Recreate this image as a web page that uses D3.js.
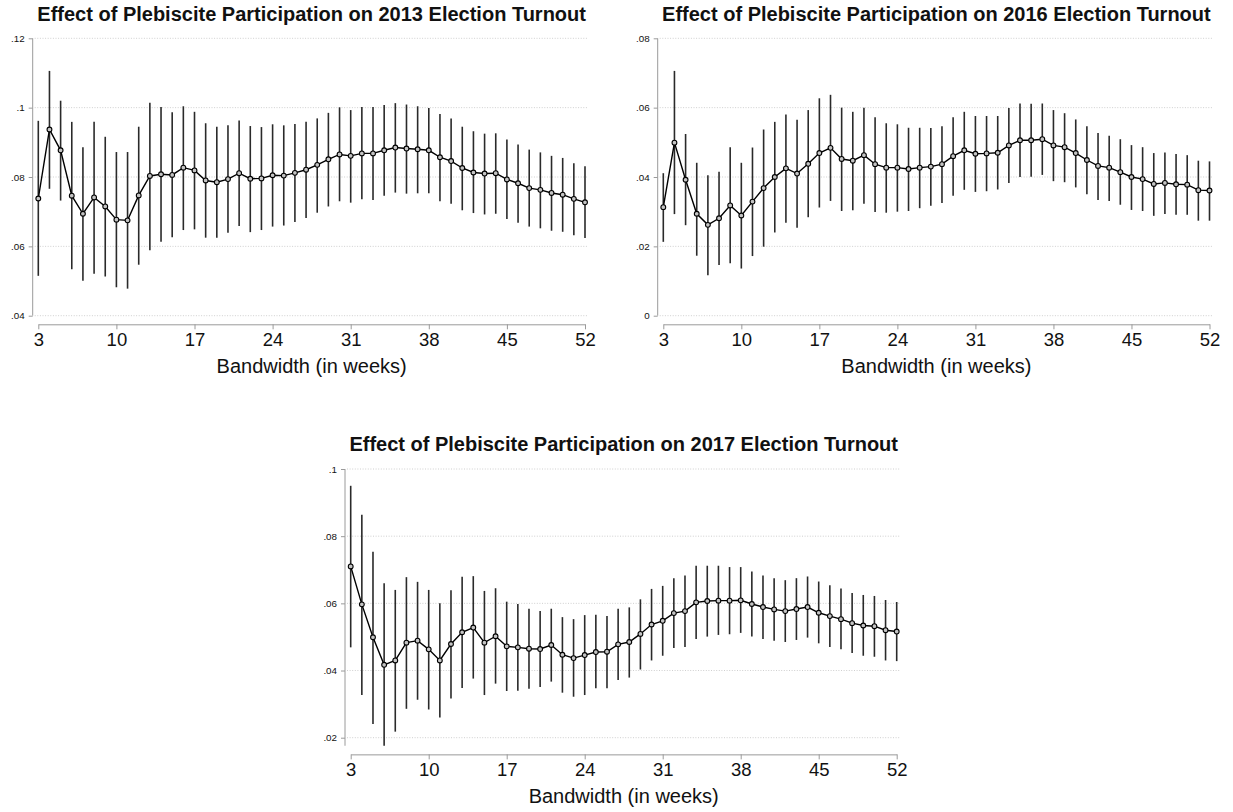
<!DOCTYPE html>
<html>
<head>
<meta charset="utf-8">
<script src="https://cdn.jsdelivr.net/npm/d3@7"></script>
<style>
  body { margin: 0; background: #fff; }
  svg text { font-family: "Liberation Sans", Arial, sans-serif; fill: #111; }
</style>
</head>
<body>
<div id="chart"></div>
<script>
// bandwidths (weeks) and tick values
var weeks = [3,4,5,6,7,8,9,10,11,12,13,14,15,16,17,18,19,20,21,22,23,24,25,26,27,
             28,29,30,31,32,33,34,35,36,37,38,39,40,41,42,43,44,45,46,47,48,49,50,51,52];
var xTicks = [3, 10, 17, 24, 31, 38, 45, 52];

var titles = ["Effect of Plebiscite Participation on 2013 Election Turnout",
              "Effect of Plebiscite Participation on 2016 Election Turnout",
              "Effect of Plebiscite Participation on 2017 Election Turnout"];
var xLabel = "Bandwidth (in weeks)";

// 2013 estimates + confidence interval
var est2013 = [.0738,.0937,.0877,.0746,.0694,.0741,.0715,.0677,.0675,.0747,
               .0803,.0808,.0806,.0827,.0819,.0790,.0785,.0794,.0811,.0795,
               .0796,.0805,.0804,.0812,.0821,.0835,.0851,.0865,.0861,.0868,
               .0868,.0877,.0885,.0882,.0880,.0877,.0857,.0846,.0826,.0813,
               .0810,.0811,.0793,.0782,.0768,.0763,.0754,.0749,.0737,.0727];
var hi2013 = [.0962,.1106,.1020,.0959,.0886,.0959,.0916,.0872,.0872,.0945,
              .1014,.1002,.0987,.1004,.0988,.0955,.0945,.0949,.0963,.0947,
              .0944,.0952,.0949,.0953,.0959,.0969,.0985,.1001,.0993,.1002,
              .1002,.1008,.1013,.1009,.1004,.0999,.0982,.0969,.0945,.0932,
              .0925,.0926,.0908,.0894,.0879,.0871,.0861,.0855,.0840,.0831];
var lo2013 = [.0515,.0766,.0732,.0534,.0501,.0521,.0513,.0482,.0478,.0547,
              .0589,.0613,.0626,.0647,.0649,.0625,.0625,.0639,.0659,.0641,
              .0647,.0657,.0660,.0670,.0682,.0697,.0715,.0730,.0726,.0736,
              .0734,.0746,.0755,.0752,.0753,.0753,.0730,.0723,.0704,.0696,
              .0692,.0694,.0679,.0668,.0657,.0652,.0645,.0642,.0632,.0624];
var yTicks2013 = [.04, .06, .08, .1, .12];

// 2016
var est2016 = [.0313,.0499,.0392,.0294,.0262,.0281,.0318,.0289,.0329,.0368,
               .0400,.0425,.0410,.0438,.0469,.0484,.0452,.0447,.0463,.0437,
               .0427,.0427,.0423,.0427,.0430,.0437,.0460,.0477,.0467,.0468,
               .0470,.0491,.0506,.0506,.0509,.0491,.0486,.0469,.0449,.0432,
               .0427,.0414,.0400,.0394,.0380,.0383,.0379,.0378,.0362,.0361];
var hi2016 = [.0411,.0706,.0524,.0441,.0405,.0415,.0486,.0441,.0485,.0537,
              .0559,.0580,.0565,.0593,.0627,.0637,.0600,.0588,.0600,.0572,
              .0555,.0552,.0542,.0542,.0541,.0546,.0572,.0588,.0576,.0576,
              .0576,.0599,.0612,.0611,.0612,.0593,.0584,.0566,.0546,.0527,
              .0519,.0509,.0492,.0486,.0469,.0471,.0466,.0463,.0447,.0445];
var lo2016 = [.0213,.0293,.0261,.0173,.0117,.0146,.0151,.0136,.0172,.0199,
              .0240,.0268,.0254,.0284,.0312,.0331,.0302,.0304,.0323,.0299,
              .0297,.0300,.0302,.0310,.0317,.0325,.0346,.0363,.0357,.0359,
              .0364,.0383,.0400,.0401,.0406,.0388,.0385,.0370,.0350,.0334,
              .0331,.0320,.0305,.0302,.0288,.0293,.0291,.0291,.0274,.0274];
var yTicks2016 = [0, .02, .04, .06, .08];

// 2017
var est2017 = [.0710,.0597,.0499,.0417,.0430,.0483,.0489,.0463,.0430,.0479,
               .0514,.0528,.0483,.0502,.0472,.0469,.0465,.0464,.0476,.0447,
               .0437,.0446,.0455,.0456,.0478,.0485,.0509,.0537,.0548,.0571,
               .0577,.0603,.0607,.0608,.0608,.0609,.0598,.0589,.0582,.0577,
               .0583,.0589,.0572,.0562,.0553,.0541,.0534,.0532,.0520,.0516];
var hi2017 = [.0950,.0864,.0754,.0660,.0640,.0678,.0664,.0640,.0600,.0639,
              .0679,.0681,.0637,.0645,.0605,.0598,.0584,.0577,.0584,.0559,
              .0553,.0565,.0566,.0562,.0584,.0588,.0612,.0643,.0652,.0675,
              .0683,.0712,.0712,.0712,.0708,.0708,.0695,.0683,.0675,.0669,
              .0675,.0680,.0665,.0654,.0644,.0631,.0625,.0622,.0610,.0604];
var lo2017 = [.0469,.0327,.0241,.0176,.0218,.0286,.0313,.0284,.0260,.0317,
              .0348,.0376,.0327,.0361,.0339,.0340,.0346,.0351,.0367,.0334,
              .0322,.0327,.0347,.0347,.0372,.0379,.0403,.0430,.0444,.0467,
              .0470,.0494,.0501,.0506,.0508,.0512,.0501,.0494,.0489,.0485,
              .0491,.0498,.0481,.0470,.0463,.0452,.0444,.0441,.0430,.0428];
var yTicks2017 = [.02, .04, .06, .08, .1];

// where each panel sits on the page
var panels = [
  {title: titles[0], est: est2013, lo: lo2013, hi: hi2013, yTicks: yTicks2013,
   axisX: 32.7, x0: 38.3, x1: 585, yTop: 38.3, yBot: 315.7},
  {title: titles[1], est: est2016, lo: lo2016, hi: hi2016, yTicks: yTicks2016,
   axisX: 657.7, x0: 663.3, x1: 1209.5, yTop: 38.3, yBot: 315.7},
  {title: titles[2], est: est2017, lo: lo2017, hi: hi2017, yTicks: yTicks2017,
   axisX: 345, x0: 350.7, x1: 896.7, yTop: 469, yBot: 737.7}
];

var svg = d3.select("#chart")
  .append("svg")
    .attr("width", 1233)
    .attr("height", 812);

// stata style labels: .04 instead of 0.04
var fmt = function(v) { return v === 0 ? "0" : d3.format("")(v).replace(/^0/, ""); };

panels.forEach(function(p) {
  var rows = weeks.map(function(w, i) {
    return {w: w, est: p.est[i], lo: p.lo[i], hi: p.hi[i]};
  });

  var x = d3.scaleLinear()
    .domain([weeks[0], weeks[weeks.length - 1]])
    .range([p.x0, p.x1]);

  var y = d3.scaleLinear()
    .domain(d3.extent(p.yTicks))
    .range([p.yBot, p.yTop]);

  // plot region grows if the intervals go past the outer ticks
  var top = Math.min(p.yTop, y(d3.max(p.hi)));
  var bot = Math.max(p.yBot, y(d3.min(p.lo)));
  var xAxisY = bot + 8.6;

  var g = svg.append("g");

  // dotted gridlines
  g.selectAll(".grid")
    .data(p.yTicks)
    .enter()
    .append("line")
      .attr("x1", p.axisX + 2)
      .attr("x2", p.x1 + 3)
      .attr("y1", function(d) { return y(d); })
      .attr("y2", function(d) { return y(d); })
      .attr("stroke", "#cfcfcf")
      .attr("stroke-width", 1)
      .attr("stroke-dasharray", "1,1.6");

  // Y axis
  var yAxis = g.append("g")
    .attr("transform", "translate(" + p.axisX + ",0)")
    .call(d3.axisLeft(y).tickValues(p.yTicks).tickSize(4).tickPadding(4).tickFormat(fmt));
  yAxis.select(".domain").remove();
  yAxis.selectAll(".tick line").attr("stroke", "#9a9a9a");
  yAxis.selectAll("text").attr("font-size", 9.8).attr("fill", "#222");
  g.append("line")
    .attr("x1", p.axisX).attr("x2", p.axisX)
    .attr("y1", top).attr("y2", bot)
    .attr("stroke", "#9a9a9a");

  // X axis
  var xAxis = g.append("g")
    .attr("transform", "translate(0," + xAxisY + ")")
    .call(d3.axisBottom(x).tickValues(xTicks).tickSize(5).tickSizeOuter(0).tickPadding(4));
  xAxis.selectAll(".domain, .tick line").attr("stroke", "#9a9a9a");
  xAxis.selectAll("text").attr("font-size", 18.5).attr("fill", "#111");

  // X axis label
  g.append("text")
    .attr("text-anchor", "middle")
    .attr("x", (p.x0 + p.x1) / 2)
    .attr("y", xAxisY + 48.5)
    .attr("font-size", 20)
    .text(xLabel);

  // title
  g.append("text")
    .attr("text-anchor", "middle")
    .attr("x", (p.x0 + p.x1) / 2)
    .attr("y", top - 17.6)
    .attr("font-size", 20)
    .attr("font-weight", "bold")
    .text(p.title);

  // confidence spikes
  g.selectAll(".ci")
    .data(rows)
    .enter()
    .append("line")
      .attr("x1", function(d) { return x(d.w); })
      .attr("x2", function(d) { return x(d.w); })
      .attr("y1", function(d) { return y(d.lo); })
      .attr("y2", function(d) { return y(d.hi); })
      .attr("stroke", "#2a2a2a")
      .attr("stroke-width", 1.6);

  // connected estimates
  g.append("path")
    .datum(rows)
    .attr("fill", "none")
    .attr("stroke", "#000")
    .attr("stroke-width", 1.4)
    .attr("d", d3.line()
      .x(function(d) { return x(d.w); })
      .y(function(d) { return y(d.est); }));

  g.selectAll(".dot")
    .data(rows)
    .enter()
    .append("circle")
      .attr("cx", function(d) { return x(d.w); })
      .attr("cy", function(d) { return y(d.est); })
      .attr("r", 2.4)
      .attr("fill", "#c4c4c4")
      .attr("stroke", "#000")
      .attr("stroke-width", 1.1);
});
</script>
</body>
</html>
